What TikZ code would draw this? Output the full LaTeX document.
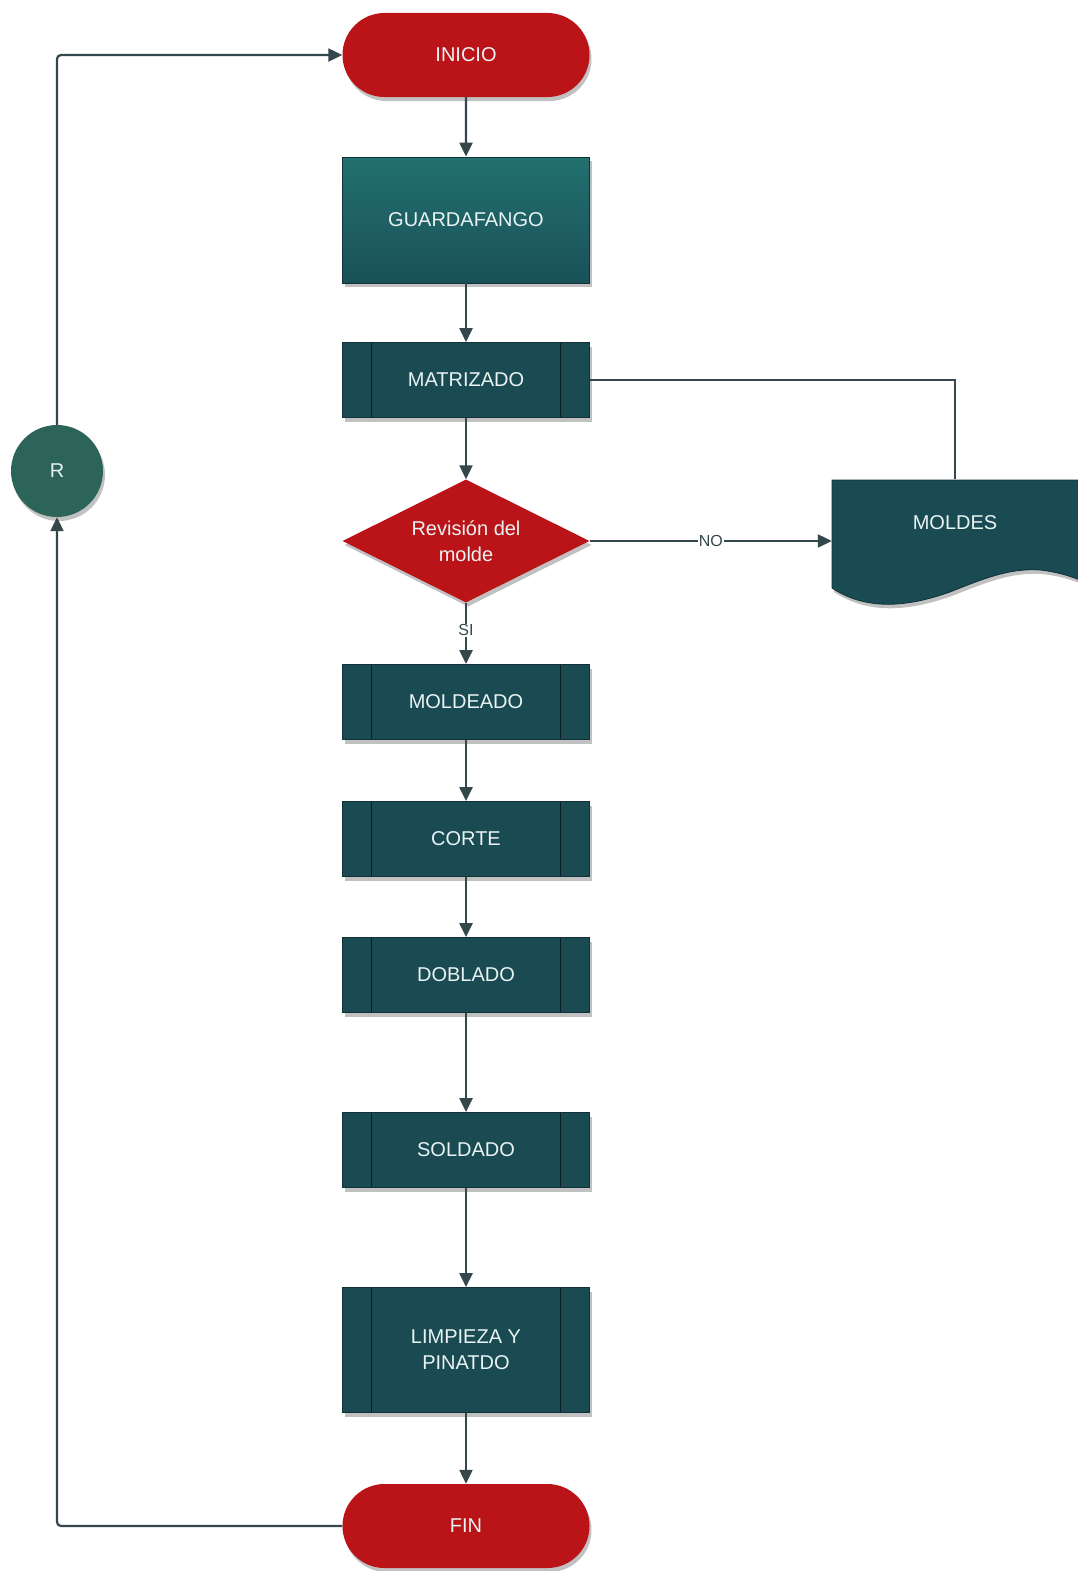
\documentclass[tikz,border=0pt]{standalone}
\usepackage{fontspec}
\setmainfont{Liberation Sans}
\usetikzlibrary{shapes.geometric,shapes.misc,arrows.meta,shadows}
\definecolor{tealdark}{HTML}{1A4B53}
\definecolor{tealtop}{HTML}{22706F}
\definecolor{tealbot}{HTML}{1A5159}
\definecolor{redfill}{HTML}{BA1318}
\definecolor{rgreen}{HTML}{2C6459}
\definecolor{linec}{HTML}{34474C}
\definecolor{txtc}{HTML}{E9F3F3}
\begin{document}
\begin{tikzpicture}[x=1pt,y=-1pt,
 shad/.style={drop shadow={shadow xshift=2pt,shadow yshift=-4pt,opacity=.4,fill=black!60}},
 base/.style={font=\fontsize{20}{26}\selectfont, text=txtc, align=center, inner sep=0pt, shad},
 term/.style={base, rounded rectangle, fill=redfill, minimum width=247pt, minimum height=84pt},
 procbox/.style={base, rectangle, fill=tealdark, draw=black!35!tealdark, line width=0.8pt,
   minimum width=247pt, minimum height=75pt,
   path picture={
     \draw[black!60!tealdark, line width=1.4pt]
       ([xshift=29pt]path picture bounding box.north west) -- ([xshift=29pt]path picture bounding box.south west)
       ([xshift=-29pt]path picture bounding box.north east) -- ([xshift=-29pt]path picture bounding box.south east);
   }},
 decis/.style={base, diamond, aspect=2, fill=redfill, minimum width=247pt, minimum height=123pt},
 conn/.style={line width=2.2pt, draw=linec},
 arr/.style={conn, -{Triangle[length=14pt,width=13pt]}},
 lbl/.style={font=\fontsize{16}{18}\selectfont, text=linec, fill=white, inner sep=1pt}
]
\useasboundingbox (0,0) rectangle (1078,1571);
\fill[white] (0,0) rectangle (1078,1571);

% document shape for MOLDES
\fill[black!60, opacity=.4, xshift=2pt, yshift=-4pt]
  (832,480) -- (1085,480) -- (1085,582)
  .. controls (1075,578) and (1060,572) .. (1040,570)
  .. controls (1010,568) and (985,578) .. (950,592)
  .. controls (905,608) and (865,610) .. (832,588) -- cycle;
\fill[tealdark, draw=black!35!tealdark, line width=0.8pt]
  (832,480) -- (1085,480) -- (1085,582)
  .. controls (1075,578) and (1060,572) .. (1040,570)
  .. controls (1010,568) and (985,578) .. (950,592)
  .. controls (905,608) and (865,610) .. (832,588) -- cycle;

\node[term] (inicio) at (466,55) {INICIO};
\node[base, rectangle, top color=tealtop, bottom color=tealbot, draw=black!35!tealdark, line width=0.8pt,
      minimum width=247pt, minimum height=126pt] (guarda) at (466,220) {GUARDAFANGO};
\node[procbox] (matriz) at (466,380) {MATRIZADO};
\node[decis] (rev) at (466,541) {Revisión del\\molde};
\node[procbox] (mold) at (466,702) {MOLDEADO};
\node[procbox] (corte) at (466,839) {CORTE};
\node[procbox] (dobl) at (466,975) {DOBLADO};
\node[procbox] (sold) at (466,1150) {SOLDADO};
\node[procbox, minimum height=125pt] (limp) at (466,1350) {LIMPIEZA Y\\PINATDO};
\node[term] (fin) at (466,1526) {FIN};
\node[base, circle, fill=rgreen, minimum size=92pt] (R) at (57,471) {R};
\node[font=\fontsize{20}{26}\selectfont, text=txtc, inner sep=0pt, minimum width=246pt,
      minimum height=123pt, text height=14pt, text depth=38pt] (moldes) at (955,541) {MOLDES};

\draw[arr] (inicio) -- (guarda);
\draw[arr] (guarda) -- (matriz);
\draw[arr] (matriz) -- (rev);
\draw[arr] (rev) -- node[lbl, pos=0.45] {SI} (mold);
\draw[arr] (mold) -- (corte);
\draw[arr] (corte) -- (dobl);
\draw[arr] (dobl) -- (sold);
\draw[arr] (sold) -- (limp);
\draw[arr] (limp) -- (fin);
\draw[arr] (rev.east) -- node[lbl, pos=0.5] {NO} (rev.east -| moldes.west);
\draw[conn] (matriz.east) -| (moldes.north);
\draw[arr, rounded corners=4pt] (fin.west) -| (R.south);
\draw[arr, rounded corners=4pt] (R.north) |- (inicio.west);
\end{tikzpicture}
\end{document}
